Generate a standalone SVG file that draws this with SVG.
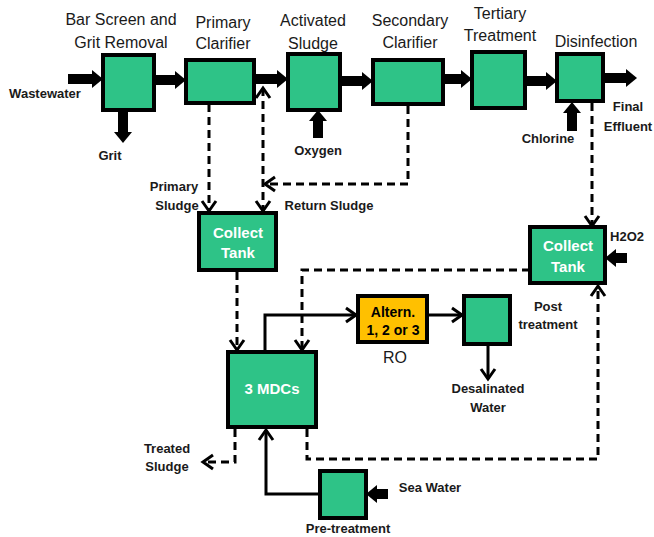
<svg xmlns="http://www.w3.org/2000/svg" width="654" height="537" viewBox="0 0 654 537">
<style>
.box{fill:#2EC387;stroke:#000;stroke-width:4}
.ro{fill:#FFC000;stroke:#000;stroke-width:4}
.thick{stroke:#000;stroke-width:10;fill:none;marker-end:url(#head)}
.dash{stroke:#000;stroke-width:3;fill:none;stroke-dasharray:8 5;marker-end:url(#open)}
.thin{stroke:#000;stroke-width:3;fill:none;marker-end:url(#open)}
text{font-family:"Liberation Sans",Arial,sans-serif;fill:#1a1a1a;text-anchor:middle}
.t{font-size:16px}
.s{font-size:13px;font-weight:bold}
.w{font-size:15px;font-weight:bold;fill:#fff}
.k{font-size:14px;font-weight:bold;fill:#000}
</style>
<defs>
<marker id="head" markerUnits="userSpaceOnUse" viewBox="0 -9 11 18" refX="0" refY="0" markerWidth="11" markerHeight="18" orient="auto" overflow="visible">
<path d="M0,-9 L11,0 L0,9 Z" fill="#000"/>
</marker>
<marker id="open" markerUnits="userSpaceOnUse" viewBox="-12 -8 14 16" refX="0" refY="0" markerWidth="14" markerHeight="16" orient="auto-start-reverse" overflow="visible">
<path d="M-10,-7 L0,0 L-10,7" fill="none" stroke="#000" stroke-width="3"/>
</marker>
</defs>

<g id="connectors">
<line class="thick" x1="68" y1="79" x2="92" y2="79"/>
<line class="thick" x1="154" y1="80" x2="175" y2="80"/>
<line class="thick" x1="254" y1="79" x2="277" y2="79"/>
<line class="thick" x1="340" y1="81" x2="362" y2="81"/>
<line class="thick" x1="443" y1="79" x2="461" y2="79"/>
<line class="thick" x1="525" y1="81" x2="546" y2="81"/>
<line class="thick" x1="603" y1="78" x2="626" y2="78"/>
<line class="thick" x1="123" y1="110" x2="123" y2="132"/>
<line class="thick" x1="318" y1="138" x2="318" y2="121"/>
<line class="thick" x1="572" y1="131" x2="572" y2="113"/>
<line class="thick" x1="627" y1="258" x2="616" y2="258"/>
<line class="thick" x1="388" y1="494" x2="377" y2="494"/>

<path class="dash" d="M209,104 V211"/>
<path class="dash" d="M263,88 V211" style="marker-start:url(#open)"/>
<path class="dash" d="M408,106 V184 H265"/>
<path class="dash" d="M237,272 V350"/>
<path class="dash" d="M530,270 H302 V350"/>
<path class="dash" d="M307,429 V459 H598 V286"/>
<path class="dash" d="M592,103 V226"/>
<path class="dash" d="M235,429 V462 H203"/>

<path class="thin" d="M265,352 V315 H356"/>
<path class="thin" d="M427,315 H462"/>
<path class="thin" d="M488,345 V379"/>
<path class="thin" d="M320,494 H266 V430"/>
</g>

<g id="bar-screen"><rect class="box" x="103" y="55" width="51" height="55"/></g>
<g id="primary-clarifier"><rect class="box" x="186" y="60" width="68" height="43"/></g>
<g id="activated-sludge"><rect class="box" x="288" y="54" width="52" height="56"/></g>
<g id="secondary-clarifier"><rect class="box" x="373" y="60" width="70" height="44"/></g>
<g id="tertiary-treatment"><rect class="box" x="472" y="52" width="53" height="56"/></g>
<g id="disinfection"><rect class="box" x="557" y="54" width="46" height="47"/></g>
<g id="collect-tank-1"><rect class="box" x="199" y="213" width="77" height="57"/>
<text class="w" x="238" y="238">Collect</text><text class="w" x="238" y="258">Tank</text></g>
<g id="collect-tank-2"><rect class="box" x="530" y="227" width="75" height="56"/>
<text class="w" x="568" y="251">Collect</text><text class="w" x="568" y="272">Tank</text></g>
<g id="mdcs"><rect class="box" x="228" y="352" width="88" height="75"/>
<text class="w" x="272" y="394">3 MDCs</text></g>
<g id="ro"><rect class="ro" x="358" y="296" width="69" height="46"/>
<text class="k" x="393" y="317">Altern.</text><text class="k" x="393" y="335">1, 2 or 3</text></g>
<g id="post-treatment"><rect class="box" x="464" y="296" width="46" height="48"/></g>
<g id="pre-treatment"><rect class="box" x="320" y="471" width="46" height="47"/></g>

<g id="labels">
<text class="t" x="121" y="25">Bar Screen and</text>
<text class="t" x="121" y="48">Grit Removal</text>
<text class="t" x="223" y="28">Primary</text>
<text class="t" x="223" y="49">Clarifier</text>
<text class="t" x="313" y="26">Activated</text>
<text class="t" x="313" y="49">Sludge</text>
<text class="t" x="410" y="26">Secondary</text>
<text class="t" x="410" y="48">Clarifier</text>
<text class="t" x="500" y="19">Tertiary</text>
<text class="t" x="500" y="41">Treatment</text>
<text class="t" x="596" y="47">Disinfection</text>
<text class="s" x="45" y="98">Wastewater</text>
<text class="s" x="110" y="160">Grit</text>
<text class="s" x="318" y="155">Oxygen</text>
<text class="s" x="548" y="143">Chlorine</text>
<text class="s" x="628" y="111">Final</text>
<text class="s" x="628" y="131">Effluent</text>
<text class="s" x="174" y="191">Primary</text>
<text class="s" x="177" y="210">Sludge</text>
<text class="s" x="329" y="210">Return Sludge</text>
<text class="s" x="627" y="241">H2O2</text>
<text class="t" x="395" y="363">RO</text>
<text class="s" x="548" y="311">Post</text>
<text class="s" x="548" y="329">treatment</text>
<text class="s" x="488" y="393">Desalinated</text>
<text class="s" x="488" y="412">Water</text>
<text class="s" x="167" y="453">Treated</text>
<text class="s" x="167" y="471">Sludge</text>
<text class="s" x="430" y="492">Sea Water</text>
<text class="s" x="348" y="533">Pre-treatment</text>
</g>
</svg>
